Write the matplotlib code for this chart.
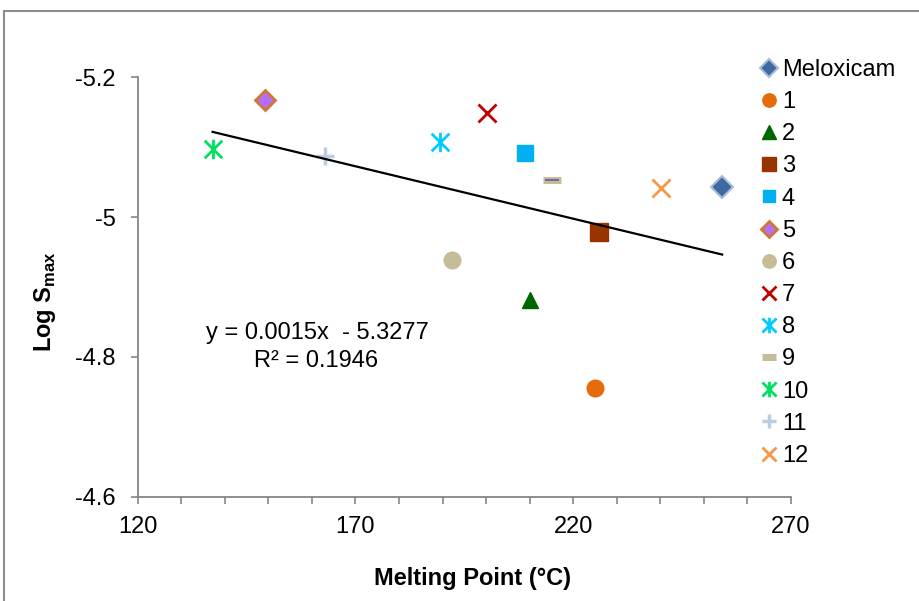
import numpy as np
import matplotlib
matplotlib.use("Agg")
import matplotlib.pyplot as plt
from matplotlib.path import Path
from matplotlib.patches import Rectangle

plt.rcParams["font.family"] = ["Liberation Sans", "DejaVu Sans"]
plt.rcParams["mathtext.fontset"] = "custom"
plt.rcParams["mathtext.rm"] = "Liberation Sans"
plt.rcParams["mathtext.bf"] = "Liberation Sans:bold"

# compounds and their measured values
names = ["Meloxicam", "1", "2", "3", "4", "5", "6", "7", "8", "9", "10", "11", "12"]
melting_point = [254.2, 225.0, 210.0, 225.9, 208.9, 149.2, 192.2, 200.1, 189.3, 215.2, 137.2, 163.0, 240.2]
log_smax = [-5.043, -4.756, -4.882, -4.978, -5.092, -5.168, -4.938, -5.149, -5.107, -5.053, -5.098, -5.088, -5.042]

# linear trendline reported on the chart
slope = 0.0015
intercept = -5.3277
r_squared = 0.1946

W, H = 919, 601

# excel style star: an x with a vertical bar through it
star = Path([(-1, -1), (1, 1), (-1, 1), (1, -1), (0, -1.1), (0, 1.1)],
            [Path.MOVETO, Path.LINETO, Path.MOVETO, Path.LINETO, Path.MOVETO, Path.LINETO])

styles = [
    dict(marker="D", ms=11, mfc="#3D6AA0", mec="#A9BDD9", mew=1.5),
    dict(marker="o", ms=12, mfc="#E46C0A", mec="#E46C0A", mew=1),
    dict(marker="^", ms=12, mfc="#006600", mec="#006600", mew=1),
    dict(marker="s", ms=12.5, mfc="#993300", mec="#993300", mew=1),
    dict(marker="s", ms=11.5, mfc="#00B0F0", mec="#00B0F0", mew=1),
    dict(marker="D", ms=10.5, mfc="#B46EF8", mec="#CC7A33", mew=2),
    dict(marker="o", ms=12, mfc="#C4BD97", mec="#C4BD97", mew=1),
    dict(marker="x", ms=13, mec="#C00000", mew=2),
    dict(marker=star, ms=14, mec="#00CCFF", mew=2),
    dict(marker="_", ms=13, mec="#C4BD97", mew=5),
    dict(marker=star, ms=14, mec="#00E060", mew=2),
    dict(marker="+", ms=13, mec="#B9CDE5", mew=2.5),
    dict(marker="x", ms=13, mec="#F79646", mew=2),
]

fig = plt.figure(figsize=(W / 100, H / 100), dpi=100)
ax = fig.add_axes([137.7 / W, 1 - 496.7 / H, (791 - 137.7) / W, (496.7 - 77.3) / H])

handles = []
for name, x, y, st in zip(names, melting_point, log_smax, styles):
    h, = ax.plot([x], [y], linestyle="none", label=name, **st)
    handles.append(h)
# thin purple centre line on the dash marker
ax.plot([melting_point[9]], [log_smax[9]], linestyle="none", marker="_",
        ms=10, mec="#8064A2", mew=1.5)

xs = np.array([min(melting_point), max(melting_point)])
ax.plot(xs, slope * xs + intercept, color="black", lw=1.6)

ax.set_xlim(120, 270)
ax.set_ylim(-4.6, -5.2)
ax.set_xticks([120, 170, 220, 270])
ax.set_xticks(np.arange(120, 271, 10), minor=True)
ax.set_yticks([-5.2, -5.0, -4.8, -4.6])
ax.set_yticklabels(["-5.2", "-5", "-4.8", "-4.6"])

for s in ["top", "right"]:
    ax.spines[s].set_visible(False)
for s in ["left", "bottom"]:
    ax.spines[s].set_color("#868686")
    ax.spines[s].set_linewidth(1.3)
ax.tick_params(which="both", direction="out", length=5, width=1.2, color="#868686")
ax.tick_params(axis="x", which="major", labelsize=17, pad=9)
ax.tick_params(axis="y", which="major", labelsize=17, pad=11)
ax.tick_params(axis="x", which="minor", labelbottom=False)

fig.text(473 / W, 1 - 578 / H, "Melting Point (°C)", fontsize=17, fontweight="bold",
         ha="center", va="center")
fig.text(45 / W, 1 - 302 / H, r"Log S$_{\mathbf{max}}$", fontsize=17, fontweight="bold",
         rotation=90, ha="center", va="center")

fig.text(317 / W, 1 - 339 / H, f"y = {slope}x  - {abs(intercept)}", fontsize=17,
         ha="center", va="baseline")
fig.text(316 / W, 1 - 367 / H, f"R² = {r_squared}", fontsize=17,
         ha="center", va="baseline")

fig.legend(handles=handles, loc="upper left", bbox_to_anchor=(757 / W, 1 - 59 / H),
           frameon=False, fontsize=17, handlelength=1.0, handletextpad=0.05,
           borderpad=0, borderaxespad=0, labelspacing=0.43, numpoints=1,
           markerscale=0.8)

# outer chart border
fig.patches.append(Rectangle((4 / W, -0.1), 1.2, 1 - 11 / H + 0.1, transform=fig.transFigure,
                             fill=False, edgecolor="#8C8C8C", linewidth=1.5))

fig.savefig("out.png", dpi=100)
